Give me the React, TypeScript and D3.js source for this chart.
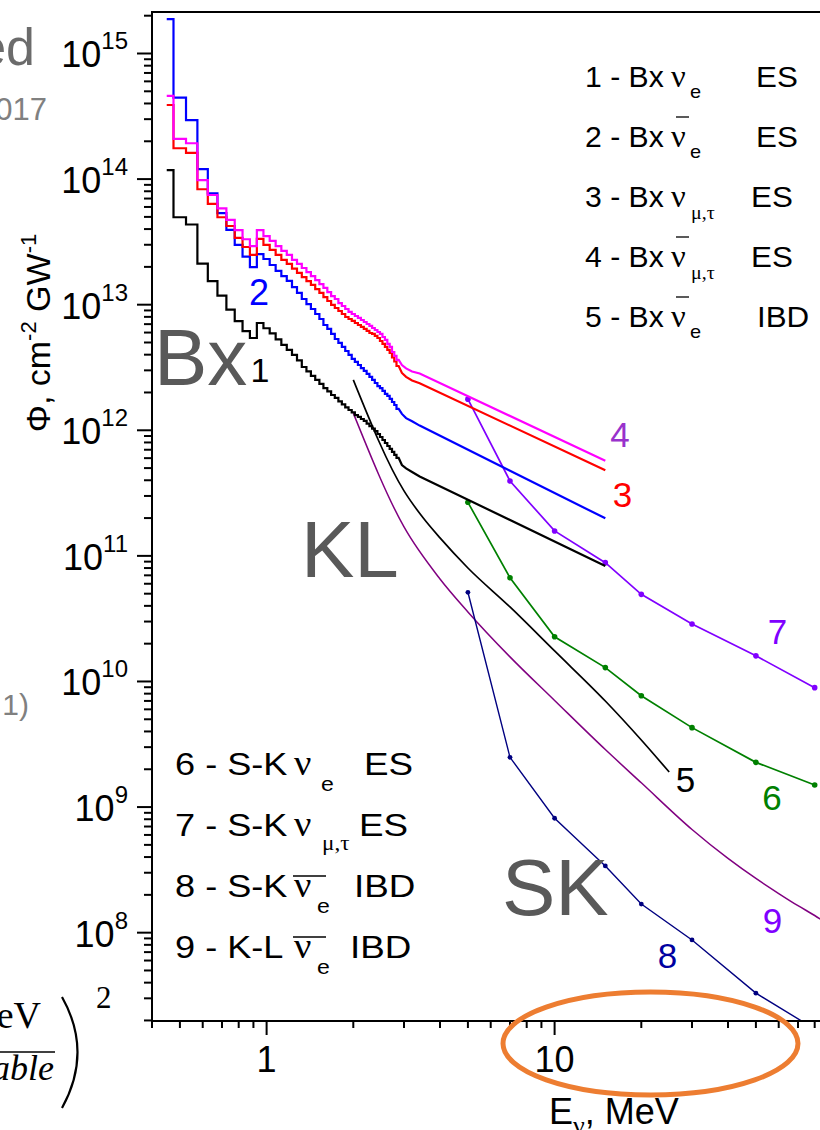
import React from 'react';
import * as d3 from 'd3';

const W = 820;
const H = 1130;
const PLOT = { left: 152, right: 842.6, top: 12, bottom: 1021 };
const xDomain: [number, number] = [0.4, 100];
const yDomain: [number, number] = [1.98e7, 2.14e15];

// Histogram bin edges (MeV) shared by the Borexino step spectra
const binEdges = [
  0.45, 0.475, 0.525, 0.575, 0.625, 0.675, 0.725, 0.775, 0.825, 0.875, 0.925, 0.975,
  1.025, 1.075, 1.125, 1.175, 1.225, 1.275, 1.325, 1.375, 1.425, 1.475, 1.525, 1.575,
  1.625, 1.675, 1.725, 1.775, 1.825, 1.875, 1.925, 1.975, 2.025, 2.075, 2.125, 2.175,
  2.225, 2.275, 2.325, 2.375, 2.425, 2.475, 2.525, 2.575, 2.625, 2.675, 2.725, 2.775,
  2.825, 2.875,
];

// 1 - Bx nu_e ES
const bx1 = [
  1.18e14, 4.97e13, 4.35e13, 2.12e13, 1.54e13, 1.18e13, 9.13e12, 7.39e12, 6.15e12, 5.43e12,
  7.15e12, 6.49e12, 5.92e12, 5.3e12, 4.78e12, 4.36e12, 3.98e12, 3.6e12, 3.19e12, 2.94e12,
  2.71e12, 2.52e12, 2.34e12, 2.17e12, 2.04e12, 1.91e12, 1.81e12, 1.7e12, 1.61e12, 1.52e12,
  1.45e12, 1.39e12, 1.32e12, 1.28e12, 1.23e12, 1.19e12, 1.13e12, 1.08e12, 1.03e12, 9.87e11,
  9.34e11, 8.84e11, 8.37e11, 7.92e11, 7.5e11, 7.1e11, 6.72e11, 6.36e11, 6.02e11,
];
// 2 - Bx anti-nu_e ES
const bx2 = [
  1.88e15, 4.45e14, 2.95e14, 1.2e14, 7.71e13, 5.35e13, 3.94e13, 2.99e13, 2.41e13, 1.99e13,
  2.53e13, 2.31e13, 2.07e13, 1.86e13, 1.69e13, 1.55e13, 1.38e13, 1.24e13, 1.11e13, 1.01e13,
  9.24e12, 8.43e12, 7.69e12, 6.89e12, 6.41e12, 5.85e12, 5.33e12, 4.96e12, 4.61e12, 4.28e12,
  3.98e12, 3.7e12, 3.5e12, 3.31e12, 3.13e12, 2.97e12, 2.81e12, 2.66e12, 2.52e12, 2.38e12,
  2.25e12, 2.17e12, 2.06e12, 1.95e12, 1.88e12, 1.78e12, 1.68e12, 1.59e12, 1.48e12,
];
// 3 - Bx nu_mu,tau ES
const bx3 = [
  3.89e14, 1.76e14, 1.62e14, 8.3e13, 6.34e13, 4.97e13, 4.23e13, 3.4e13, 2.88e13, 2.49e13,
  3.34e13, 2.99e13, 2.73e13, 2.49e13, 2.27e13, 2.11e13, 1.94e13, 1.79e13, 1.66e13, 1.54e13,
  1.44e13, 1.33e13, 1.24e13, 1.15e13, 1.07e13, 9.95e12, 9.41e12, 8.91e12, 8.43e12, 7.98e12,
  7.69e12, 7.42e12, 7.15e12, 6.89e12, 6.65e12, 6.41e12, 6.18e12, 5.95e12, 5.85e12, 5.64e12,
  5.43e12, 5.14e12, 4.87e12, 4.61e12, 4.36e12, 4.13e12, 3.8e12, 3.53e12, 3.25e12,
];
// 4 - Bx anti-nu_mu,tau ES
const bx4 = [
  4.59e14, 2.09e14, 1.93e14, 9.83e13, 7.47e13, 5.85e13, 4.73e13, 3.93e13, 3.32e13, 2.93e13,
  3.93e13, 3.52e13, 3.22e13, 2.93e13, 2.68e13, 2.49e13, 2.27e13, 2.11e13, 1.96e13, 1.82e13,
  1.69e13, 1.57e13, 1.46e13, 1.36e13, 1.26e13, 1.17e13, 1.11e13, 1.03e13, 9.76e12, 9.24e12,
  8.75e12, 8.43e12, 8.13e12, 7.84e12, 7.55e12, 7.28e12, 7.02e12, 6.77e12, 6.52e12, 6.29e12,
  6.06e12, 5.85e12, 5.53e12, 5.24e12, 4.87e12, 4.61e12, 4.2e12, 3.91e12, 3.63e12,
];
// smooth continuation of the Borexino spectra
const tailE = [2.95, 3.05, 3.2, 3.4, 15];
const bx1Tail = [5.29e11, 4.97e11, 4.66e11, 4.29e11, 8.31e10];
const bx2Tail = [1.35e12, 1.25e12, 1.18e12, 1.09e12, 1.99e11];
const bx3Tail = [2.86e12, 2.66e12, 2.49e12, 2.37e12, 4.8e11];
const bx4Tail = [3.31e12, 3.11e12, 2.94e12, 2.83e12, 5.73e11];

// 5 - Bx anti-nu_e IBD
const bx5E = [2, 3, 3.5, 4, 5, 7, 10, 15, 20, 25];
const bx5 = [2.52e12, 3.29e11, 2.0e11, 1.39e11, 8.01e10, 3.92e10, 1.75e10, 6.99e9, 3.42e9, 1.9e9];

// Super-Kamiokande curves (with markers)
const skE = [5, 7, 10, 15, 20, 30, 50, 80];
const sk6 = [2.67e11, 6.7e10, 2.27e10, 1.29e10, 7.7e9, 4.29e9, 2.27e9, 1.5e9];
const sk7 = [1.77e12, 3.95e11, 1.58e11, 8.83e10, 4.94e10, 2.87e10, 1.6e10, 8.93e9];
const sk8 = [5.13e10, 2.49e9, 8.15e8, 3.4e8, 1.69e8, 8.75e7, 3.3e7, 1.71e7];

// 9 - KamLAND anti-nu_e IBD
const kl9E = [2, 3, 4, 5, 7, 10, 15, 20, 30, 40, 50, 60, 70, 80, 90];
const kl9 = [1.37e12, 1.7e11, 6.55e10, 3.58e10, 1.57e10, 7.06e9, 2.87e9, 1.56e9, 6.63e8, 3.9e8, 2.7e8, 2.05e8, 1.64e8, 1.37e8, 1.145e8];

const xTickLabels = ['1', '10'];
const yTickExps = [8, 9, 10, 11, 12, 13, 14, 15];

const legendTop = [
  { pre: '1 - Bx', sub: 'e', bar: false, suf: 'ES' },
  { pre: '2 - Bx', sub: 'e', bar: true, suf: 'ES' },
  { pre: '3 - Bx', sub: 'μ,τ', bar: false, suf: 'ES' },
  { pre: '4 - Bx', sub: 'μ,τ', bar: true, suf: 'ES' },
  { pre: '5 - Bx', sub: 'e', bar: true, suf: 'IBD' },
];
const legendBottom = [
  { pre: '6 - S-K', sub: 'e', bar: false, suf: 'ES' },
  { pre: '7 - S-K', sub: 'μ,τ', bar: false, suf: 'ES' },
  { pre: '8 - S-K', sub: 'e', bar: true, suf: 'IBD' },
  { pre: '9 - K-L', sub: 'e', bar: true, suf: 'IBD' },
];

const SANS = '"Liberation Sans", Arial, Helvetica, sans-serif';
const SERIF = '"Liberation Serif", "Times New Roman", serif';

type P = [number, number];

function SText(props: { x: number; y: number; sx: number; fs: number; ff?: string; children: React.ReactNode }) {
  return (
    <text transform={`translate(${props.x},${props.y}) scale(${props.sx},1)`} fontSize={props.fs} fontFamily={props.ff || SANS}>
      {props.children}
    </text>
  );
}

export default function App() {
  const x = d3.scaleLog().domain(xDomain).range([PLOT.left, PLOT.right]);
  const y = d3.scaleLog().domain(yDomain).range([PLOT.bottom, PLOT.top]);
  const line = d3.line<P>().x((d) => x(d[0])).y((d) => y(d[1]));
  const smooth = d3.line<P>().x((d) => x(d[0])).y((d) => y(d[1])).curve(d3.curveMonotoneX);

  const stepPoints = (vals: number[], tail: number[]): P[] => {
    const pts: P[] = [];
    vals.forEach((v, i) => {
      pts.push([binEdges[i], v]);
      pts.push([binEdges[i + 1], v]);
    });
    tailE.forEach((e, i) => pts.push([e, tail[i]]));
    return pts;
  };
  const zip = (es: number[], vs: number[]): P[] => es.map((e, i) => [e, vs[i]] as P);

  const isMajor = (t: number) => Math.abs(Math.log10(t) - Math.round(Math.log10(t))) < 1e-6;
  const xTicks = x.ticks().filter((t) => x(t) <= PLOT.right + 0.5);
  const yTicks = y.ticks();

  const steps = [
    { pts: stepPoints(bx1, bx1Tail), color: '#000000' },
    { pts: stepPoints(bx2, bx2Tail), color: '#0000FF' },
    { pts: stepPoints(bx3, bx3Tail), color: '#FF0000' },
    { pts: stepPoints(bx4, bx4Tail), color: '#FF00FF' },
  ];
  const markerSeries = [
    { pts: zip(skE, sk6), color: '#008000', r: 2.8, w: 1.7 },
    { pts: zip(skE, sk7), color: '#8000FF', r: 2.8, w: 1.7 },
    { pts: zip(skE, sk8), color: '#000080', r: 2.4, w: 1.4 },
  ];

  const curveLabels = [
    { t: '2', cx: 259, by: 305, c: '#0000FF', fs: 36 },
    { t: '1', cx: 260, by: 382, c: '#000000', fs: 34 },
    { t: '4', cx: 620, by: 447, c: '#9932CC', fs: 35 },
    { t: '3', cx: 622.5, by: 507, c: '#FF0000', fs: 35 },
    { t: '7', cx: 777.5, by: 644, c: '#8000FF', fs: 35 },
    { t: '5', cx: 685.5, by: 792, c: '#000000', fs: 35 },
    { t: '6', cx: 772, by: 810, c: '#008000', fs: 35 },
    { t: '9', cx: 772.5, by: 933, c: '#8000FF', fs: 35 },
    { t: '8', cx: 667.5, by: 968, c: '#0000A0', fs: 35 },
  ];

  return (
    <svg
      width={W}
      height={H}
      viewBox={`0 0 ${W} ${H}`}
      style={{ position: 'absolute', left: 0, top: 0, background: '#fff' }}
      fontFamily={SANS}
    >
      <rect x={0} y={0} width={W} height={H} fill="#fff" />
      <defs>
        <clipPath id="plotClip">
          <rect x={PLOT.left} y={PLOT.top} width={PLOT.right - PLOT.left} height={PLOT.bottom - PLOT.top} />
        </clipPath>
      </defs>

      {/* background slide fragments */}
      <text x={35} y={65} textAnchor="end" fontSize={52} fill="#6b6b6b">ed</text>
      <text x={47} y={120} textAnchor="end" fontSize={31} fill="#808080">017</text>
      <text x={29} y={715} textAnchor="end" fontSize={30} fill="#808080">1)</text>
      <text x={41} y={1028} textAnchor="end" fontSize={38} fontFamily={SERIF} fill="#000">eV</text>
      <line x1={0} x2={55} y1={1052} y2={1052} stroke="#000" strokeWidth={1.5} />
      <text x={54} y={1080} textAnchor="end" fontSize={36} fontFamily={SERIF} fontStyle="italic" fill="#000">able</text>
      <path d="M62,997 Q93,1052 62,1108" fill="none" stroke="#000" strokeWidth={2.2} />
      <text x={96} y={1008} fontSize={31} fontFamily={SERIF} fill="#000">2</text>

      {/* curves */}
      <g clipPath="url(#plotClip)" fill="none" strokeLinejoin="miter">
        <path d={smooth(zip(kl9E, kl9)) || ''} stroke="#800080" strokeWidth={1.5} />
        <path d={smooth(zip(bx5E, bx5)) || ''} stroke="#000" strokeWidth={1.7} />
        {markerSeries.map((s, i) => (
          <g key={'m' + i}>
            <path d={line(s.pts) || ''} stroke={s.color} strokeWidth={s.w} />
            {s.pts.map((p, j) => (
              <circle key={j} cx={x(p[0])} cy={y(p[1])} r={s.r} fill={s.color} stroke="none" />
            ))}
          </g>
        ))}
        {steps.map((s, i) => (
          <path key={'s' + i} d={line(s.pts) || ''} stroke={s.color} strokeWidth={2.2} />
        ))}
      </g>

      {/* frame */}
      <g stroke="#000" strokeWidth={2} fill="none">
        <line x1={PLOT.left} x2={PLOT.left} y1={PLOT.top - 1} y2={PLOT.bottom + 1} />
        <line x1={PLOT.left - 1} x2={PLOT.right} y1={PLOT.top} y2={PLOT.top} />
        <line x1={PLOT.left - 1} x2={PLOT.right} y1={PLOT.bottom} y2={PLOT.bottom} />
        <line x1={PLOT.right} x2={PLOT.right} y1={PLOT.top} y2={PLOT.bottom} />
      </g>

      {/* y ticks */}
      <g stroke="#000" strokeWidth={2}>
        {yTicks.map((t, i) => {
          const yy = y(t);
          const L = isMajor(t) ? 15 : 8;
          return <line key={i} x1={PLOT.left - L} x2={PLOT.left} y1={yy} y2={yy} />;
        })}
      </g>
      {yTickExps.map((e) => (
        <text key={e} x={128} y={y(Math.pow(10, e)) + 14} textAnchor="end" fontSize={36} fill="#000">
          10<tspan dy={-18} fontSize={24}>{e}</tspan>
        </text>
      ))}

      {/* x ticks */}
      <g stroke="#000" strokeWidth={2}>
        {xTicks.map((t, i) => {
          const xx = x(t);
          const L = isMajor(t) ? 14 : 7;
          return <line key={i} x1={xx} x2={xx} y1={PLOT.bottom} y2={PLOT.bottom + L} />;
        })}
      </g>
      {xTickLabels.map((lab) => (
        <text key={lab} x={x(+lab)} y={1072} textAnchor="middle" fontSize={36} fill="#000">{lab}</text>
      ))}

      {/* axis titles */}
      <text transform="translate(50,333) rotate(-90)" textAnchor="middle" fontSize={34} fill="#000">
        Φ, cm<tspan dy={-14} fontSize={22}>-2</tspan>
        <tspan dy={14}> GW</tspan>
        <tspan dy={-14} fontSize={22}>-1</tspan>
      </text>
      <text x={549} y={1124} fontSize={36} fill="#000">
        E<tspan dy={10} fontSize={26} fontFamily={SERIF}>ν</tspan>
        <tspan dy={-10}>, MeV</tspan>
      </text>

      {/* big region labels */}
      <text x={154} y={385} fontSize={80} fill="#595959">Bx</text>
      <text x={301} y={577} fontSize={80} fill="#595959">KL</text>
      <text x={502} y={915} fontSize={80} fill="#595959">SK</text>

      {/* curve number labels */}
      {curveLabels.map((l) => (
        <text key={l.t} x={l.cx} y={l.by} textAnchor="middle" fontSize={l.fs} fill={l.c}>{l.t}</text>
      ))}

      {/* legend top right */}
      {legendTop.map((l, i) => {
        const by = 87 + 60 * i;
        const greek = l.sub !== 'e';
        return (
          <g key={'lt' + i} fill="#000">
            <SText x={585} y={by} sx={1.04} fs={29}>{l.pre}</SText>
            <SText x={671} y={by} sx={1.05} fs={31} ff={SERIF}>ν</SText>
            {l.bar && <line x1={676} x2={689} y1={by - 30} y2={by - 30} stroke="#000" strokeWidth={1.3} />}
            <SText x={greek ? 691 : 690} y={by + (greek ? 12 : 11)} sx={1.05} fs={19} ff={greek ? SERIF : SANS}>{l.sub}</SText>
            <SText x={l.suf === 'IBD' ? 757 : greek ? 751 : 756} y={by} sx={1.08} fs={29}>{l.suf}</SText>
          </g>
        );
      })}

      {/* legend bottom left */}
      {legendBottom.map((l, i) => {
        const by = [775, 836, 897, 958][i];
        const greek = l.sub !== 'e';
        const subX = [321, 322, 317, 317][i];
        const sufX = [364, 359, 354, 350][i];
        return (
          <g key={'lb' + i} fill="#000">
            <SText x={175} y={by} sx={1.13} fs={32}>{l.pre}</SText>
            <SText x={294} y={by} sx={1.1} fs={35} ff={SERIF}>ν</SText>
            {l.bar && <line x1={293} x2={326} y1={by - 21} y2={by - 21} stroke="#000" strokeWidth={1.3} />}
            <SText x={subX} y={by + (greek ? 14 : 16)} sx={1.1} fs={21} ff={greek ? SERIF : SANS}>{l.sub}</SText>
            <SText x={sufX} y={by} sx={1.15} fs={32}>{l.suf}</SText>
          </g>
        );
      })}

      {/* highlight ellipse */}
      <ellipse cx={650.5} cy={1043.5} rx={147.5} ry={51.5} fill="none" stroke="#ED7D31" strokeWidth={5} />
    </svg>
  );
}
